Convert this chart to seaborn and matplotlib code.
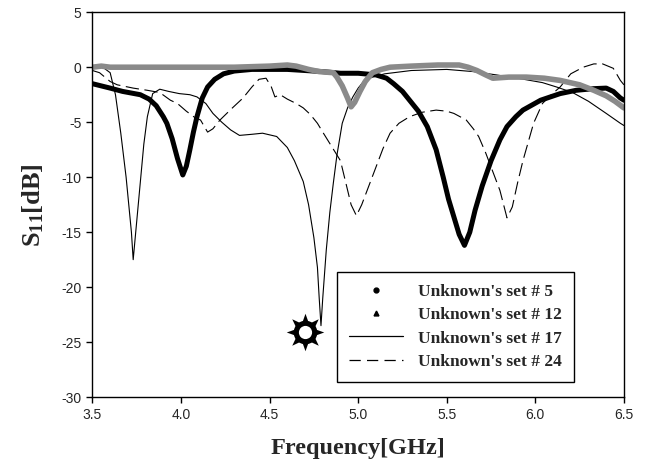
import numpy as np
import pandas as pd
import matplotlib
matplotlib.use("Agg")
import matplotlib.pyplot as plt
import seaborn as sns
from matplotlib.lines import Line2D

# ---------------- data ----------------
freq_5 = [3.50, 3.60, 3.67, 3.77, 3.82, 3.86, 3.90, 3.92, 3.95, 3.98, 4.01, 4.03,
          4.05, 4.07, 4.09, 4.12, 4.15, 4.19, 4.24, 4.30, 4.40, 4.60, 4.80, 4.90,
          5.00, 5.10, 5.16, 5.20, 5.25, 5.29, 5.34, 5.39, 5.44, 5.48, 5.51, 5.54,
          5.57, 5.60, 5.63, 5.66, 5.70, 5.75, 5.80, 5.84, 5.89, 5.93, 6.03, 6.14,
          6.23, 6.33, 6.40, 6.44, 6.48, 6.50]
s11_5 = [-1.5, -1.9, -2.2, -2.5, -2.9, -3.5, -4.5, -5.1, -6.5, -8.3, -9.8, -9.0,
         -7.5, -5.9, -4.5, -2.8, -1.8, -1.1, -0.6, -0.35, -0.2, -0.2, -0.4, -0.55,
         -0.55, -0.7, -1.0, -1.5, -2.2, -3.0, -4.0, -5.4, -7.5, -10.0, -12.0, -13.6,
         -15.2, -16.2, -15.0, -13.0, -10.8, -8.5, -6.6, -5.4, -4.5, -3.9, -3.0, -2.4,
         -2.1, -1.95, -1.9, -2.2, -2.8, -3.0]

freq_12 = [3.50, 3.55, 3.60, 3.70, 3.80, 3.90, 4.00, 4.10, 4.20, 4.30, 4.40, 4.50,
           4.60, 4.65, 4.72, 4.78, 4.86, 4.88, 4.91, 4.94, 4.96, 4.98, 5.01, 5.04,
           5.08, 5.13, 5.18, 5.30, 5.45, 5.57, 5.62, 5.67, 5.72, 5.76, 5.85, 5.95,
           6.05, 6.14, 6.25, 6.33, 6.40, 6.45, 6.50]
s11_12 = [0.0, 0.1, 0.0, 0.0, 0.0, 0.0, 0.0, 0.0, 0.0, 0.0, 0.05, 0.1,
          0.2, 0.1, -0.2, -0.4, -0.5, -0.9, -1.7, -2.8, -3.6, -3.2, -2.2, -1.3,
          -0.5, -0.2, 0.0, 0.1, 0.2, 0.2, 0.0, -0.3, -0.7, -1.0, -0.9, -0.9,
          -1.0, -1.2, -1.6, -2.1, -2.6, -3.1, -3.7]

freq_17 = [3.50, 3.55, 3.60, 3.63, 3.66, 3.69, 3.72, 3.73, 3.75, 3.77, 3.79, 3.81,
           3.84, 3.88, 3.93, 3.99, 4.05, 4.09, 4.14, 4.18, 4.23, 4.28, 4.33, 4.40,
           4.46, 4.54, 4.60, 4.64, 4.69, 4.72, 4.75, 4.77, 4.78, 4.79, 4.80, 4.82,
           4.84, 4.86, 4.88, 4.91, 4.94, 4.97, 5.00, 5.03, 5.08, 5.15, 5.30, 5.50,
           5.65, 5.78, 5.90, 6.04, 6.12, 6.21, 6.30, 6.40, 6.48, 6.50]
s11_17 = [0.0, 0.1, -0.5, -2.5, -6.0, -10.0, -15.0, -17.5, -14.0, -10.5, -7.0, -4.5,
          -2.4, -2.0, -2.2, -2.4, -2.5, -2.7, -3.3, -4.2, -5.0, -5.7, -6.2, -6.1,
          -6.0, -6.3, -7.3, -8.5, -10.4, -12.5, -15.5, -18.2, -21.0, -23.5, -21.0, -16.6,
          -13.2, -10.5, -8.0, -5.1, -3.7, -2.7, -1.9, -1.3, -0.9, -0.6, -0.3, -0.2,
          -0.4, -0.7, -1.0, -1.4, -1.8, -2.3, -3.1, -4.2, -5.1, -5.3]

freq_24 = [3.50, 3.54, 3.60, 3.64, 3.73, 3.81, 3.88, 3.94, 3.98, 4.03, 4.08, 4.11,
           4.15, 4.18, 4.22, 4.29, 4.35, 4.40, 4.44, 4.48, 4.51, 4.53, 4.56, 4.60,
           4.65, 4.69, 4.73, 4.77, 4.80, 4.85, 4.90, 4.93, 4.96, 4.99, 5.02, 5.06,
           5.10, 5.14, 5.18, 5.23, 5.29, 5.36, 5.44, 5.50, 5.54, 5.61, 5.65, 5.68,
           5.72, 5.76, 5.80, 5.84, 5.87, 5.90, 5.93, 5.96, 5.99, 6.04, 6.09, 6.14,
           6.20, 6.27, 6.33, 6.38, 6.44, 6.48, 6.50]
s11_24 = [-0.3, -0.5, -1.3, -1.6, -1.9, -2.1, -2.3, -3.0, -3.3, -4.0, -4.6, -4.8,
          -5.9, -5.6, -4.8, -3.7, -2.8, -1.8, -1.1, -1.0, -1.8, -2.7, -2.5, -2.9,
          -3.3, -3.7, -4.3, -5.1, -5.9, -7.2, -8.5, -10.5, -12.5, -13.5, -12.5, -10.8,
          -9.1, -7.4, -6.0, -5.1, -4.5, -4.1, -3.9, -4.0, -4.2, -4.8, -5.6, -6.3,
          -7.8, -9.5, -11.2, -13.7, -12.7, -10.5, -8.5, -6.8, -5.1, -3.3, -2.5, -1.8,
          -0.6, 0.0, 0.3, 0.3, -0.1, -1.2, -1.6]

star_point = [4.70, -24.1]

labels = ["Unknown's set # 5", "Unknown's set # 12",
          "Unknown's set # 17", "Unknown's set # 24"]
x_ticks = [3.5, 4.0, 4.5, 5.0, 5.5, 6.0, 6.5]
x_tick_labels = ["3.5", "4.0", "4.5", "5.0", "5.5", "6.0", "6.5"]
y_ticks = [-30, -25, -20, -15, -10, -5, 0, 5]

# ---------------- style ----------------
sns.set_style("ticks")
plt.rcParams["font.family"] = ["Liberation Serif", "DejaVu Serif"]
plt.rcParams["mathtext.default"] = "regular"

fig = plt.figure(figsize=(6.51, 4.70), dpi=100)
ax = fig.add_axes([0.142, 0.155, 0.8164, 0.819])

sns.lineplot(x=freq_17, y=s11_17, ax=ax, color="black", linewidth=0.8,
             sort=False, estimator=None)
sns.lineplot(x=freq_24, y=s11_24, ax=ax, color="black", linewidth=0.8,
             sort=False, estimator=None, linestyle=(0, (12, 5)))
sns.lineplot(x=freq_5, y=s11_5, ax=ax, color="black", linewidth=3.6,
             sort=False, estimator=None)
sns.lineplot(x=freq_12, y=s11_12, ax=ax, color="#8a8a8a", linewidth=4.0,
             sort=False, estimator=None)

# star annotation
sns.scatterplot(x=[star_point[0]], y=[star_point[1]], ax=ax, marker=(8, 1, 0),
                s=27 ** 2, color="black", linewidth=0, zorder=5)
sns.scatterplot(x=[star_point[0]], y=[star_point[1]], ax=ax, marker="o",
                s=17 ** 2, color="black", linewidth=0, zorder=6)
sns.scatterplot(x=[star_point[0]], y=[star_point[1]], ax=ax, marker="o",
                s=9.5 ** 2, color="white", linewidth=0, zorder=7)

ax.set_xlim(3.5, 6.5)
ax.set_ylim(-30, 5)
ax.set_xticks(x_ticks)
ax.set_xticklabels(x_tick_labels, fontfamily="Liberation Sans", fontsize=10)
ax.set_yticks(y_ticks)
ax.set_yticklabels([str(v) for v in y_ticks], fontfamily="Liberation Sans", fontsize=10)
ax.tick_params(direction="out", length=4, width=1, color="black", pad=4)
for sp in ax.spines.values():
    sp.set_visible(True)
    sp.set_color("black")
    sp.set_linewidth(1.0)

ax.set_xlabel("Frequency[GHz]", fontsize=17.5, fontweight="bold", labelpad=11)
ax.set_ylabel("S$_{11}$[dB]", fontsize=19, fontweight="bold", labelpad=11)

handles = [
    Line2D([], [], marker="o", ms=3.5, color="black", ls="none"),
    Line2D([], [], marker="^", ms=3.5, color="black", ls="none"),
    Line2D([], [], color="black", lw=0.9),
    Line2D([], [], color="black", lw=0.9, ls=(0, (9, 5))),
]
leg = ax.legend(handles, labels, loc="upper left", bbox_to_anchor=(0.46, 0.325),
                prop={"family": "Liberation Serif", "weight": "bold", "size": 12.5},
                frameon=True, fancybox=False, edgecolor="black", framealpha=1,
                handlelength=3.1, handletextpad=0.85, borderpad=0.7,
                labelspacing=0.4, borderaxespad=0)
leg.get_frame().set_linewidth(1.0)

fig.savefig("out.png", dpi=100)
